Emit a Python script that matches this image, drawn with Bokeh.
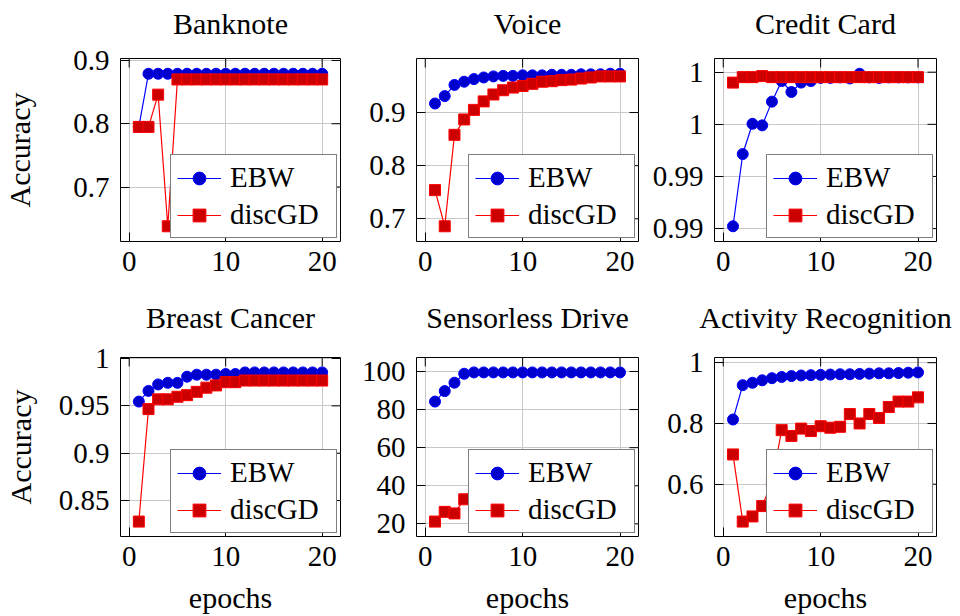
from bokeh.plotting import figure
from bokeh.layouts import column, row
from bokeh.models import (FixedTicker, PrintfTickFormatter, Legend, LegendItem,
                          Range1d, LinearAxis)
from bokeh.embed import file_html
from bokeh.resources import INLINE

FONT = "Liberation Serif"

epochs = [1, 2, 3, 4, 5, 6, 7, 8, 9, 10, 11, 12, 13, 14, 15, 16, 17, 18, 19, 20]
x_ticks = [0, 10, 20]

titles = ["Banknote", "Voice", "Credit Card", "Breast Cancer", "Sensorless Drive",
          "Activity Recognition"]

banknote_ebw = [0.795, 0.879, 0.879, 0.879, 0.879, 0.879, 0.879, 0.879, 0.879, 0.879,
                0.879, 0.879, 0.879, 0.879, 0.879, 0.879, 0.879, 0.879, 0.879, 0.879]
banknote_gd = [0.795, 0.795, 0.846, 0.638, 0.870, 0.870, 0.870, 0.870, 0.870, 0.870,
               0.870, 0.870, 0.870, 0.870, 0.870, 0.870, 0.870, 0.870, 0.870, 0.870]
banknote_ticks = [0.7, 0.8, 0.9]

voice_ebw = [0.917, 0.931, 0.952, 0.958, 0.963, 0.966, 0.968, 0.969, 0.969, 0.970,
             0.970, 0.970, 0.971, 0.971, 0.971, 0.972, 0.972, 0.972, 0.973, 0.973]
voice_gd = [0.754, 0.686, 0.858, 0.887, 0.905, 0.921, 0.934, 0.942, 0.947, 0.950,
            0.954, 0.958, 0.959, 0.961, 0.962, 0.964, 0.966, 0.968, 0.968, 0.968]
voice_ticks = [0.7, 0.8, 0.9]

credit_ebw = [0.99209, 0.99486, 0.99602, 0.99596, 0.99687, 0.99766, 0.99724, 0.99760,
              0.99766, 0.99778, 0.99778, 0.99780, 0.99776, 0.99794, 0.99780, 0.99778,
              0.99780, 0.99780, 0.99780, 0.99780]
credit_gd = [0.99760, 0.99781, 0.99781, 0.99785, 0.99781, 0.99781, 0.99781, 0.99781,
             0.99781, 0.99781, 0.99781, 0.99781, 0.99781, 0.99781, 0.99781, 0.99781,
             0.99781, 0.99781, 0.99781, 0.99781]
credit_ticks = [0.992, 0.994, 0.996, 0.998]

breast_ebw = [0.9545, 0.9658, 0.9726, 0.9743, 0.9743, 0.9808, 0.9829, 0.9829, 0.9829,
              0.9836, 0.9836, 0.9853, 0.9853, 0.9853, 0.9853, 0.9853, 0.9853, 0.9853,
              0.9853, 0.9853]
breast_gd = [0.8278, 0.9466, 0.9569, 0.9569, 0.9596, 0.9613, 0.9648, 0.9692, 0.9716,
             0.9750, 0.9750, 0.9767, 0.9767, 0.9767, 0.9767, 0.9767, 0.9767, 0.9767,
             0.9767, 0.9767]
breast_ticks = [0.85, 0.9, 0.95, 1.0]

sensor_ebw = [84.2, 89.7, 94.1, 98.8, 99.5, 99.5, 99.5, 99.5, 99.5, 99.5,
              99.5, 99.5, 99.5, 99.5, 99.5, 99.5, 99.5, 99.5, 99.5, 99.5]
sensor_gd = [21.2, 26.3, 25.5, 32.9, 35.0, 37.2, 39.0, 40.5, 42.1, 43.0,
             44.6, 45.3, 46.8, 47.5, 48.1, 49.0, 49.6, 50.2, 51.0, 51.4]
sensor_ticks = [20, 40, 60, 80, 100]

activity_ebw = [0.813, 0.926, 0.934, 0.942, 0.949, 0.953, 0.956, 0.958, 0.959, 0.960,
                0.961, 0.962, 0.962, 0.963, 0.964, 0.965, 0.965, 0.966, 0.967, 0.968]
activity_gd = [0.698, 0.477, 0.494, 0.528, 0.608, 0.778, 0.759, 0.783, 0.775, 0.791,
               0.786, 0.789, 0.831, 0.800, 0.831, 0.818, 0.854, 0.872, 0.872, 0.886]
activity_ticks = [0.6, 0.8, 1.0]

panels = [
    (banknote_ebw, banknote_gd, banknote_ticks, "%.3g"),
    (voice_ebw, voice_gd, voice_ticks, "%.3g"),
    (credit_ebw, credit_gd, credit_ticks, "%.2g"),
    (breast_ebw, breast_gd, breast_ticks, "%.3g"),
    (sensor_ebw, sensor_gd, sensor_ticks, "%.3g"),
    (activity_ebw, activity_gd, activity_ticks, "%.3g"),
]

# layout geometry (px)
col_w = [356, 284, 320]
col_left = [117, 60, 74]
col_right = [16, 2, 24]
row_h = [297, 319]
row_top = [58, 57]
row_bottom = [56, 80]
title_standoff = [19, 24]
TICK = 9

figs = []
for i, (ebw, gd, yt, fmt) in enumerate(panels):
    r, c = divmod(i, 3)
    lo, hi = min(ebw + gd), max(ebw + gd)
    pad = 0.1 * (hi - lo)
    xpad = 0.1 * (max(epochs) - min(epochs))
    x0, x1 = min(epochs) - xpad, max(epochs) + xpad
    y0, y1 = lo - pad, hi + pad
    p = figure(width=col_w[c], height=row_h[r], output_backend="svg",
               toolbar_location=None, title=None,
               x_range=Range1d(x0, x1), y_range=Range1d(y0, y1))
    p.min_border = 0
    p.min_border_left = col_left[c]
    p.min_border_right = col_right[c]
    p.min_border_top = row_top[r]
    p.min_border_bottom = row_bottom[r]
    p.background_fill_color = "white"
    p.border_fill_color = "white"
    p.outline_line_color = "black"
    p.outline_line_width = 1

    p.xaxis.ticker = FixedTicker(ticks=x_ticks)
    p.yaxis.ticker = FixedTicker(ticks=yt)
    p.xgrid.ticker = FixedTicker(ticks=x_ticks)
    p.ygrid.ticker = FixedTicker(ticks=yt)
    p.yaxis.formatter = PrintfTickFormatter(format=fmt)
    p.grid.grid_line_color = "#c8c8c8"
    p.grid.grid_line_width = 1

    for ax in p.axis:
        ax.major_tick_in = TICK
        ax.major_tick_out = 0
        ax.major_tick_line_color = "black"
        ax.minor_tick_line_color = None
        ax.axis_line_color = None
        ax.major_label_text_font = FONT
        ax.major_label_text_font_size = "29px"
        ax.major_label_text_color = "black"
        ax.axis_label_text_font = FONT
        ax.axis_label_text_font_size = "30px"
        ax.axis_label_text_font_style = "normal"
        ax.axis_label_text_color = "black"
    p.yaxis.major_label_standoff = 11
    p.xaxis.major_label_standoff = 10

    if c == 0:
        p.yaxis.axis_label = "Accuracy"
        p.yaxis.axis_label_standoff = 34 if r == 0 else 19
    if r == 1:
        p.xaxis.axis_label = "epochs"
        p.xaxis.axis_label_standoff = 12

    # panel title: label of a tick-less axis above the frame
    tax = LinearAxis(ticker=FixedTicker(ticks=[], minor_ticks=[]), axis_label=titles[i],
                     axis_label_standoff=title_standoff[r], major_label_standoff=0,
                     major_tick_in=0, major_tick_out=0,
                     axis_line_color=None, major_tick_line_color=None,
                     minor_tick_line_color=None,
                     axis_label_text_font=FONT, axis_label_text_font_size="30px",
                     axis_label_text_font_style="normal", axis_label_text_color="black")
    p.add_layout(tax, "above")

    # mirrored inner ticks on the right and top edges of the frame
    fw = col_w[c] - col_left[c] - col_right[c]
    fh = row_h[r] - row_top[r] - row_bottom[r]
    dx = TICK * (x1 - x0) / fw
    dy = TICK * (y1 - y0) / fh
    p.segment(x0=[x1 - dx] * len(yt), y0=yt, x1=[x1] * len(yt), y1=yt,
              line_color="black", line_width=1)
    p.segment(x0=x_ticks, y0=[y1 - dy] * len(x_ticks), x1=x_ticks,
              y1=[y1] * len(x_ticks), line_color="black", line_width=1)

    l1 = p.line(epochs, ebw, line_color="#0000ff", line_width=1.2)
    s1 = p.scatter(epochs, ebw, marker="circle", size=11, fill_color="#0000cc",
                   line_color="#0000ff", line_width=1)
    l2 = p.line(epochs, gd, line_color="#ff0000", line_width=1.2)
    s2 = p.scatter(epochs, gd, marker="square", size=11, fill_color="#cc0000",
                   line_color="#ff0000", line_width=1)

    legend = Legend(items=[LegendItem(label="EBW", renderers=[l1, s1]),
                           LegendItem(label="discGD", renderers=[l2, s2])],
                    location="bottom_right")
    legend.label_text_font = FONT
    legend.label_text_font_size = "29px"
    legend.label_text_color = "black"
    legend.glyph_width = 44
    legend.glyph_height = 32
    legend.label_standoff = 9
    legend.label_width = 100
    legend.padding = 6
    legend.spacing = 4
    legend.margin = 3
    legend.border_line_color = "black"
    legend.border_line_width = 1
    legend.background_fill_color = "white"
    legend.background_fill_alpha = 1.0
    p.add_layout(legend)
    figs.append(p)

layout = column(row(figs[0], figs[1], figs[2]), row(figs[3], figs[4], figs[5]))

with open("out.html", "w") as f:
    f.write(file_html(layout, INLINE))
